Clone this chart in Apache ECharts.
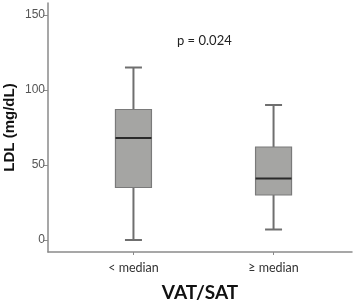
<!DOCTYPE html>
<html><head><meta charset="utf-8">
<script src="https://cdn.jsdelivr.net/npm/echarts@6/dist/echarts.min.js"></script>
<style>html,body{margin:0;padding:0;background:#fff}#c{width:358px;height:303px}</style>
</head><body><div id="c"></div>
<script>
const categories = ['< median', '≥ median'];
// [min, Q1, median, Q3, max]
const boxStats = [
  [0, 35, 68, 87, 115],
  [7, 30, 41, 62, 90]
];
const yTicks = [0, 50, 100, 150];
const pText = 'p = 0.024';

const data = boxStats.map((s, i) => [i].concat(s));
const chart = echarts.init(document.getElementById('c'));
chart.setOption({
  animation: false,
  grid: { left: 48, right: 6, top: 3, bottom: 51, containLabel: false, outerBoundsMode: 'none' },
  xAxis: {
    type: 'value', min: -0.61, max: 1.56,
    splitLine: { show: false },
    axisLine: { show: true, onZero: false, lineStyle: { color: '#8a8a8a', width: 1.5 } },
    axisTick: { show: true, customValues: [0, 1], length: 3, lineStyle: { color: '#8a8a8a' } },
    axisLabel: { customValues: [0, 1], formatter: v => categories[Math.round(v)] || '',
      color: '#333', fontSize: 12.5, fontFamily: 'Lato', margin: 9 },
    name: 'VAT/SAT', nameLocation: 'middle', nameGap: 31,
    nameTextStyle: { fontSize: 19, fontWeight: 'bold', fontFamily: 'Lato', color: '#111' }
  },
  yAxis: {
    type: 'value', min: -8, max: 158,
    splitLine: { show: false },
    axisLine: { show: true, onZero: false, lineStyle: { color: '#8a8a8a', width: 1.5 } },
    axisTick: { show: true, customValues: yTicks, length: 4, lineStyle: { color: '#8a8a8a' } },
    axisLabel: { customValues: yTicks, color: '#555', fontSize: 12, fontFamily: 'Liberation Sans', margin: 3 },
    name: 'LDL (mg/dL)', nameLocation: 'middle', nameGap: 31, nameMoveOverlap: false,
    nameTextStyle: { fontSize: 15, fontWeight: 'bold', fontFamily: 'Liberation Sans', color: '#111' }
  },
  graphic: [{ type: 'text', left: 177, top: 34,
    style: { text: pText, fontSize: 13, fontFamily: 'Lato', fill: '#222' } }],
  series: [{
    type: 'custom',
    data: data,
    encode: { x: 0, y: [1, 2, 3, 4, 5] },
    renderItem: function (params, api) {
      const x = api.value(0);
      const pMin = api.coord([x, api.value(1)]);
      const pQ1 = api.coord([x, api.value(2)]);
      const pMed = api.coord([x, api.value(3)]);
      const pQ3 = api.coord([x, api.value(4)]);
      const pMax = api.coord([x, api.value(5)]);
      const cx = pMin[0];
      const hw = 18, cw = 8.5;
      const wl = { stroke: '#6f6f6f', lineWidth: 2 };
      return { type: 'group', children: [
        { type: 'line', shape: { x1: cx, y1: pMin[1], x2: cx, y2: pQ1[1] }, style: wl },
        { type: 'line', shape: { x1: cx, y1: pQ3[1], x2: cx, y2: pMax[1] }, style: wl },
        { type: 'line', shape: { x1: cx - cw, y1: pMin[1], x2: cx + cw, y2: pMin[1] }, style: wl },
        { type: 'line', shape: { x1: cx - cw, y1: pMax[1], x2: cx + cw, y2: pMax[1] }, style: wl },
        { type: 'rect', shape: { x: cx - hw, y: pQ3[1], width: hw * 2, height: pQ1[1] - pQ3[1] },
          style: { fill: '#a5a5a3', stroke: '#7a7a7a', lineWidth: 1.2 } },
        { type: 'line', shape: { x1: cx - hw, y1: pMed[1], x2: cx + hw, y2: pMed[1] },
          style: { stroke: '#2a2a2a', lineWidth: 2 } }
      ]};
    }
  }]
});
</script></body></html>
